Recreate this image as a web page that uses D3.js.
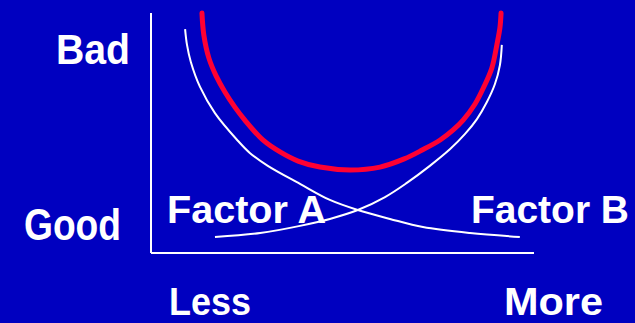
<!DOCTYPE html>
<html>
<head>
<meta charset="utf-8">
<script src="https://cdn.jsdelivr.net/npm/d3@7"></script>
<style>
  html, body { margin: 0; padding: 0; background: #0000c0; overflow: hidden; }
  .label { font-family: "Comic Sans MS", "Liberation Sans", "DejaVu Sans", sans-serif; font-weight: bold; fill: #ffffff; }
</style>
</head>
<body>
<div id="my_dataviz"></div>
<script>
// curve points, x = amount of factor (0-100), y = how bad (0-100)
var factorAx = [16.7, 28.5, 38.9, 46.7, 54.0, 61.1, 66.8, 72.8, 78.1, 82.0, 85.1, 87.7, 89.8, 91.1, 91.6];
var factorAy = [6.7, 8.3, 11.3, 14.2, 17.9, 23.3, 29.2, 36.3, 43.3, 49.6, 55.8, 62.9, 70.4, 78.3, 86.7];

var factorBx = [8.9, 9.4, 10.4, 12.8, 16.7, 22.5, 25.8, 30.5, 38.9, 46.7, 54.0, 62.4, 71.0, 83.3, 96.3];
var factorBy = [93.3, 86.7, 79.6, 69.2, 58.3, 47.1, 41.7, 36.3, 28.8, 22.1, 17.9, 14.2, 10.8, 8.3, 6.7];

var totalX = [13.3, 13.8, 15.1, 17.0, 19.3, 21.9, 24.5, 29.2, 33.7, 38.4, 44.1, 52.0,
  59.8, 66.1, 70.8, 75.5, 78.9, 81.5, 84.6, 86.9, 89.0, 90.3, 91.1, 91.4];
var totalY = [100, 90.8, 81.3, 73.8, 67.1, 60.8, 55.4, 47.1, 42.1, 38.3, 35.8, 34.6,
  35.8, 39.2, 42.9, 47.1, 51.3, 55.4, 62.1, 69.2, 77.1, 86.7, 93.8, 100];

var yLabels = ["Bad", "Good"];
var xLabels = ["Less", "More"];
var curveLabels = ["Factor A", "Factor B"];

function drawChart() {
  var margin = { top: 13, right: 101, bottom: 70, left: 151 },
    width = 635 - margin.left - margin.right,
    height = 323 - margin.top - margin.bottom;

  var root = d3
    .select("#my_dataviz")
    .append("svg")
    .attr("width", 635)
    .attr("height", 323);

  root.append("rect")
    .attr("width", 635)
    .attr("height", 323)
    .attr("fill", "#0000c0");

  var svg = root
    .append("g")
    .attr("transform", "translate(" + margin.left + "," + margin.top + ")");

  var x = d3.scaleLinear().domain([0, 100]).range([0, width]);
  var y = d3.scaleLinear().domain([0, 100]).range([height, 0]);

  // axes (plain lines, no ticks)
  svg.append("line")
    .attr("x1", x(0)).attr("y1", y(0))
    .attr("x2", x(0)).attr("y2", y(100))
    .attr("stroke", "#ffffff").attr("stroke-width", 2);
  svg.append("line")
    .attr("x1", x(0)).attr("y1", y(0))
    .attr("x2", x(100)).attr("y2", y(0))
    .attr("stroke", "#ffffff").attr("stroke-width", 2);

  var line = d3.line()
    .x(function (d) { return x(d[0]); })
    .y(function (d) { return y(d[1]); })
    .curve(d3.curveCatmullRom.alpha(0.5));

  var curves = [
    { xs: factorAx, ys: factorAy, color: "#ffffff", w: 2, cap: "butt" },
    { xs: factorBx, ys: factorBy, color: "#ffffff", w: 2, cap: "butt" },
    { xs: totalX, ys: totalY, color: "#ff0033", w: 5, cap: "round" }
  ];

  curves.forEach(function (c) {
    var pts = c.xs.map(function (v, i) { return [v, c.ys[i]]; });
    svg.append("path")
      .datum(pts)
      .attr("d", line)
      .attr("fill", "none")
      .attr("stroke", c.color)
      .attr("stroke-width", c.w)
      .attr("stroke-linecap", c.cap);
  });

  // text labels
  var labels = [
    { t: yLabels[0], x: 56, y: 64, size: 43, len: 74 },
    { t: yLabels[1], x: 24, y: 240, size: 44, len: 97 },
    { t: curveLabels[0], x: 167, y: 223, size: 39, len: 159 },
    { t: curveLabels[1], x: 471, y: 223, size: 39, len: 158 },
    { t: xLabels[0], x: 169, y: 315, size: 38, len: 82 },
    { t: xLabels[1], x: 504, y: 315, size: 38, len: 99 }
  ];

  root.selectAll(".label")
    .data(labels)
    .enter()
    .append("text")
    .attr("class", "label")
    .attr("x", function (d) { return d.x; })
    .attr("y", function (d) { return d.y; })
    .attr("textLength", function (d) { return d.len; })
    .attr("lengthAdjust", "spacingAndGlyphs")
    .style("font-size", function (d) { return d.size + "px"; })
    .text(function (d) { return d.t; });
}

drawChart();
</script>
</body>
</html>
